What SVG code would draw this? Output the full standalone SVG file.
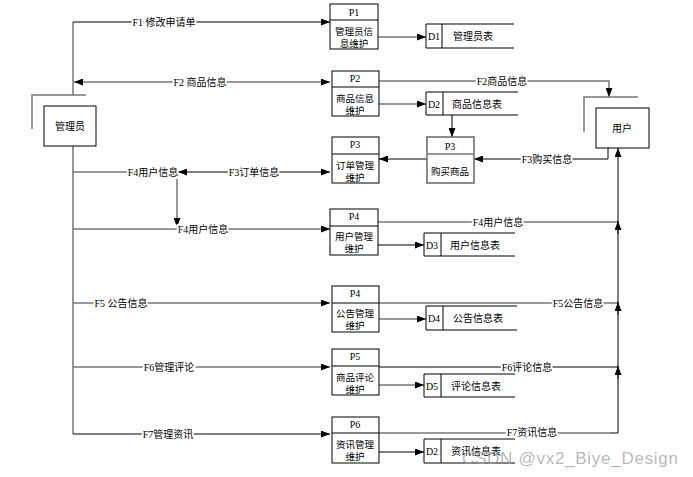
<svg xmlns="http://www.w3.org/2000/svg" width="693" height="477" viewBox="0 0 693 477">
<style>
text{font-family:"Liberation Serif","Noto Sans CJK SC",serif;font-size:10px;fill:#000;text-anchor:middle;dominant-baseline:central}
.bt{font-size:9.5px}
.lbl{stroke:#fff;stroke-width:4px;paint-order:stroke;stroke-linejoin:round}
.box{fill:#fff;stroke:#000;stroke-width:1}
.boxg{fill:#fff;stroke:#666;stroke-width:1.5}
.ln{fill:none;stroke:#000;stroke-width:1}
.gl{fill:none;stroke:#777;stroke-width:1.5}
.ds{fill:none;stroke:#000;stroke-width:1}
.e{marker-end:url(#ah)}
.s{marker-start:url(#ah)}
.wm{font-family:"Liberation Sans","DejaVu Sans",sans-serif;font-size:17px;fill:#a0a0a0;fill-opacity:0.75;text-anchor:start;dominant-baseline:alphabetic}
</style>
<defs>
<marker id="ah" markerUnits="userSpaceOnUse" markerWidth="9" markerHeight="7" refX="9" refY="3.5" orient="auto-start-reverse">
<path d="M0,0 L9,3.5 L0,7 z" fill="#000"/>
</marker>
</defs>

<g id="connectors">
<path class="gl" d="M73,22 V95"/>
<path class="gl" d="M73,146 V434"/>
<path class="ln e" d="M73,22 H330"/>
<path class="gl s e" d="M74,82 H330"/>
<path class="gl e" d="M379,81 H609 V97"/>
<path class="gl e" d="M378,37 H426"/>
<path class="gl e" d="M379,104 H426"/>
<path class="ln e" d="M452,115 V137"/>
<path class="ln e" d="M608,148 V159 H474"/>
<path class="ln e" d="M427,159 H379"/>
<path class="ln s e" d="M178,172 H330"/>
<path class="gl" d="M73,172 H178"/>
<path class="gl e" d="M177,179 V227"/>
<path class="gl e" d="M73,229 H330"/>
<path class="ln e" d="M378,245 H424"/>
<path class="gl" d="M378,222 H618"/>
<path class="gl e" d="M73,303 H330"/>
<path class="gl" d="M379,303 H618"/>
<path class="gl e" d="M379,319 H426"/>
<path class="gl e" d="M73,367 H330"/>
<path class="ln" d="M379,367 H618"/>
<path class="gl e" d="M379,385 H424"/>
<path class="ln e" d="M73,434 H330"/>
<path class="gl" d="M379,433 H610"/>
<path class="ln e" d="M618,433 V148"/>
<path class="ln" d="M610,433 H618"/>
<path class="ln e" d="M618,234 V221"/>
<path class="ln e" d="M618,315 V302"/>
<path class="ln e" d="M618,379 V366"/>
<path class="ln e" d="M379,452 H424"/>
<text class="lbl" x="164" y="22">F1 修改申请单</text>
<text class="lbl" x="200" y="82">F2 商品信息</text>
<text class="lbl" x="502" y="81">F2商品信息</text>
<text class="lbl" x="547" y="159">F3购买信息</text>
<text class="lbl" x="254" y="172">F3订单信息</text>
<text class="lbl" x="153" y="172">F4用户信息</text>
<text class="lbl" x="203" y="229">F4用户信息</text>
<text class="lbl" x="498" y="222">F4用户信息</text>
<text class="lbl" x="121" y="303">F5 公告信息</text>
<text class="lbl" x="578" y="303">F5公告信息</text>
<text class="lbl" x="169" y="367">F6管理评论</text>
<text class="lbl" x="527" y="367">F6评论信息</text>
<text class="lbl" x="168" y="434">F7管理资讯</text>
<text class="lbl" x="532" y="432">F7资讯信息</text>
</g>

<g id="admin">
<path class="gl" d="M32,129 V95 H86"/>
<rect class="box" x="44" y="106" width="52" height="40"/>
<text x="70" y="126">管理员</text>
</g>
<g id="user">
<path class="gl" d="M584,132 V97 H638"/>
<rect class="box" x="596" y="108" width="53" height="40"/>
<text x="622" y="128">用户</text>
</g>

<g id="P1">
<rect class="box" x="330" y="4" width="48" height="45"/>
<path class="ln" d="M330,20 H378"/>
<text x="354" y="12">P1</text>
<text class="bt" x="354" y="32">管理员信</text>
<text class="bt" x="354" y="44">息维护</text>
</g>
<g id="P2">
<rect class="box" x="332" y="71" width="47" height="45"/>
<path class="ln" d="M332,87 H379"/>
<text x="355" y="78">P2</text>
<text class="bt" x="355" y="99">商品信息</text>
<text class="bt" x="355" y="111">维护</text>
</g>
<g id="P3order">
<rect class="box" x="332" y="137" width="47" height="46"/>
<path class="ln" d="M332,154 H379"/>
<text x="355" y="144">P3</text>
<text class="bt" x="355" y="166">订单管理</text>
<text class="bt" x="355" y="178">维护</text>
</g>
<g id="P3buy">
<rect class="boxg" x="427" y="137" width="47" height="46"/>
<path class="gl" d="M427,154 H474"/>
<text x="450" y="146">P3</text>
<text class="bt" x="450" y="172">购买商品</text>
</g>
<g id="P4user">
<rect class="box" x="330" y="209" width="48" height="46"/>
<path class="ln" d="M330,226 H378"/>
<text x="354" y="216">P4</text>
<text class="bt" x="354" y="237">用户管理</text>
<text class="bt" x="354" y="249">维护</text>
</g>
<g id="P4notice">
<rect class="box" x="332" y="286" width="47" height="46"/>
<path class="ln" d="M332,303 H379"/>
<text x="355" y="293">P4</text>
<text class="bt" x="355" y="314">公告管理</text>
<text class="bt" x="355" y="326">维护</text>
</g>
<g id="P5">
<rect class="box" x="332" y="349" width="47" height="46"/>
<path class="ln" d="M332,366 H379"/>
<text x="355" y="356">P5</text>
<text class="bt" x="355" y="378">商品评论</text>
<text class="bt" x="355" y="390">维护</text>
</g>
<g id="P6">
<rect class="box" x="332" y="417" width="47" height="46"/>
<path class="ln" d="M332,433 H379"/>
<text x="355" y="424">P6</text>
<text class="bt" x="355" y="445">资讯管理</text>
<text class="bt" x="355" y="457">维护</text>
</g>

<g id="D1">
<path class="ds" d="M514,24 H426 V48 H514 M442,24 V48"/>
<text x="434" y="36">D1</text>
<text x="473" y="36">管理员表</text>
</g>
<g id="D2">
<path class="ds" d="M518,92 H426 V115 H518 M443,92 V115"/>
<text x="434" y="104">D2</text>
<text x="477" y="104">商品信息表</text>
</g>
<g id="D3">
<path class="ds" d="M515,233 H424 V256 H515 M441,233 V256"/>
<text x="432" y="245">D3</text>
<text x="475" y="245">用户信息表</text>
</g>
<g id="D4">
<path class="ds" d="M517,306 H426 V330 H517 M443,306 V330"/>
<text x="434" y="318">D4</text>
<text x="478" y="318">公告信息表</text>
</g>
<g id="D5">
<path class="ds" d="M515,374 H424 V397 H515 M441,374 V397"/>
<text x="432" y="386">D5</text>
<text x="476" y="386">评论信息表</text>
</g>
<g id="D2news">
<path class="ds" d="M515,439 H424 V463 H515 M441,439 V463"/>
<text x="432" y="451">D2</text>
<text x="476" y="451">资讯信息表</text>
</g>

<text class="wm" x="462" y="464" textLength="216">CSDN @vx2_Biye_Design</text>
</svg>
